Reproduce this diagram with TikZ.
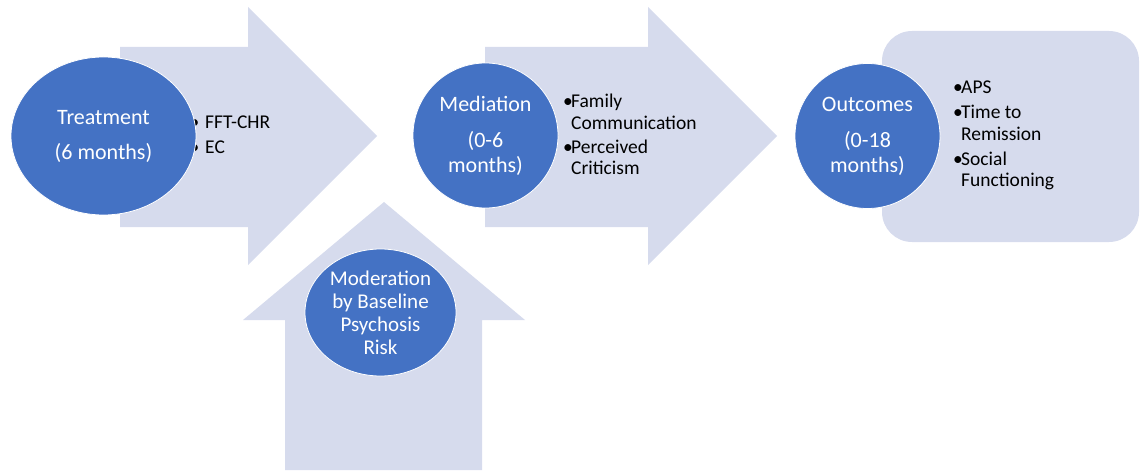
\documentclass[tikz,border=0pt]{standalone}
\usepackage{fontspec}
\setmainfont{Carlito}
\usetikzlibrary{shapes.geometric}
\definecolor{bubbleblue}{HTML}{4472C4}
\definecolor{shaftgray}{HTML}{D6DBED}
\newcommand{\bdot}[1][8pt]{\makebox[#1][l]{\textbullet}}

\begin{document}
\begin{tikzpicture}[x=1pt,y=-1pt,
  shaft/.style={fill=shaftgray, draw=none},
  bubble/.style={ellipse, fill=bubbleblue, draw=white, line width=0.8pt, text=white, align=center, inner sep=0pt, font=\fontsize{22}{25}\selectfont},
  blist/.style={anchor=west, inner sep=0pt, font=\fontsize{19.5}{21.5}\selectfont}]
\useasboundingbox (0,0) rectangle (1140,473);
% big arrows and outcome box
\fill[shaft] (120,47) -- (248,47) -- (248,7) -- (377,136) -- (248,265) -- (248,227) -- (120,227) -- cycle;
\fill[shaft] (485,47) -- (648,47) -- (648,7) -- (777,136) -- (648,265) -- (648,227) -- (485,227) -- cycle;
\fill[shaft] (285,470) -- (285,320) -- (243,320) -- (384,202) -- (525,320) -- (482,320) -- (482,470) -- cycle;
\fill[shaft, rounded corners=30pt] (882,31) rectangle (1139,242);
% bullet lists
\node[blist] (TreatList) at (189.5,136.5) {\begin{tabular}{@{}l@{}l@{}}\bdot[15.5pt]&FFT-CHR\\[3.5pt]\bdot[15.5pt]&EC\end{tabular}};
\node[blist] (MedList) at (563,137) {\begin{tabular}{@{}l@{}l@{}}\bdot&Family\\&Communication\\[2.5pt]\bdot&Perceived\\&Criticism\end{tabular}};
\node[blist] (OutList) at (953,136) {\begin{tabular}{@{}l@{}l@{}}\bdot&APS\\[3.5pt]\bdot&Time to\\&Remission\\[3.5pt]\bdot&Social\\&Functioning\end{tabular}};
% bubbles
\node[bubble, minimum width=185pt, minimum height=158pt] (Treat) at (103.5,136) {Treatment\\[10pt](6 months)};
\node[bubble, minimum width=145pt, minimum height=145pt] (Med) at (485.5,135.5) {Mediation\\[11pt](0-6\\months)};
\node[bubble, minimum width=145pt, minimum height=145pt] (Out) at (867.5,136) {Outcomes\\[11pt](0-18\\months)};
\node[bubble, minimum width=151pt, minimum height=127pt, font=\fontsize{21}{23}\selectfont] (Mod) at (380.5,312.5) {Moderation\\by Baseline\\Psychosis\\Risk};
\end{tikzpicture}
\end{document}
